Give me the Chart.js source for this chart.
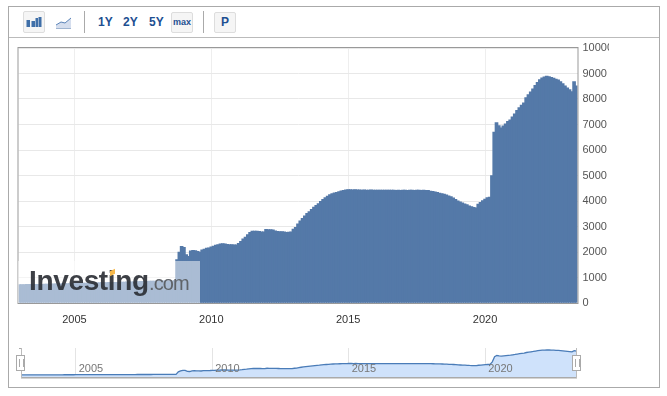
<!DOCTYPE html>
<html>
<head>
<meta charset="utf-8">
<script src="https://cdn.jsdelivr.net/npm/chart.js@4/dist/chart.umd.min.js"></script>
<style>
html,body{margin:0;padding:0;background:#fff;width:667px;height:396px;overflow:hidden;font-family:"Liberation Sans",Arial,sans-serif}
.abs{position:absolute;box-sizing:border-box}
.frame{left:8px;top:6px;width:652px;height:382px;border:1px solid #aaa}
.rule{left:9px;top:37px;width:650px;height:1px;background:#bbb}
.sep{top:11px;width:1px;height:22px;background:#aaa}
.btn{top:12px;height:21px;background:#f5f5f5;border:1px solid #ddd;border-radius:2px;color:#1d4f91;font-weight:bold;text-align:center}
.range{top:15px;color:#1d4f91;font-weight:bold;font-size:12px;line-height:14px}
.wm{left:18px;top:261px;width:182px;height:42px;background:rgba(255,255,255,.5)}
.logo{left:29px;top:262px;font-size:28px;font-weight:bold;color:rgba(45,48,54,.92);letter-spacing:-.35px;line-height:38px;white-space:nowrap}
.com{left:149px;top:268px;font-size:20px;color:#5f6368;letter-spacing:-.9px;line-height:30px;white-space:nowrap}
.mark{left:110px;top:270px;width:5px;height:5px;background:#f6b84a;transform:skewY(-25deg)}
.handle{top:355px;width:9px;height:16px;background:#fff;border:1px solid #aaa}
.handle:before{content:"";position:absolute;left:2px;top:3px;width:3px;height:8px;border-left:1px solid #aaa;border-right:1px solid #aaa}
.vline{top:348px;width:1px;height:30px;background:#bbb}
.mainc{position:absolute;left:0;top:0}
.navc{position:absolute;left:0;top:340px}
</style>
</head>
<body>
<div class="abs frame"></div>
<div class="abs rule"></div>
<div class="abs btn" style="left:23px;top:11px;width:22px;height:22px">
<svg width="20" height="20" style="position:absolute;left:0;top:0"><g fill="#3f6fa8"><rect x="2.500" y="8" width="3.500" height="7"/><rect x="7.500" y="9" width="3.500" height="6"/><rect x="11.500" y="6" width="2.500" height="9"/><rect x="14.500" y="5" width="3" height="10"/></g></svg>
</div>
<svg class="abs" style="left:55px;top:16px" width="18" height="14"><path d="M1 9 L6 6 L10 7 L16 2 L16 12 L1 12 Z" fill="#d5deee"/><path d="M1 9 L6 6 L10 7 L16 2" fill="none" stroke="#5b84b8" stroke-width="1"/><path d="M1 12.500 L16 12.500" stroke="#9fb4d0" stroke-width="1"/></svg>
<div class="abs sep" style="left:84px"></div>
<div class="abs range" style="left:98px">1Y</div>
<div class="abs range" style="left:123px">2Y</div>
<div class="abs range" style="left:149px">5Y</div>
<div class="abs btn" style="left:171px;width:22px;font-size:9px;line-height:19px">max</div>
<div class="abs sep" style="left:203px"></div>
<div class="abs btn" style="left:214px;width:22px;font-size:12px;line-height:19px">P</div>

<canvas id="main" class="mainc" width="609" height="340"></canvas>
<canvas id="nav" class="navc" width="600" height="45"></canvas>

<div class="abs wm"></div>
<div class="abs logo">Investing</div>
<div class="abs com">.com</div>
<div class="abs mark"></div>
<div class="abs" style="left:19px;top:348px;width:3px;height:1px;background:#aaa"></div>
<div class="abs vline" style="left:21px"></div>
<div class="abs vline" style="left:576px"></div>
<div class="abs handle" style="left:16px"></div>
<div class="abs handle" style="left:572px"></div>

<script>
const startYear = 2003;
const tickYears = [2005, 2010, 2015, 2020];
const yTicks = [0,1000,2000,3000,4000,5000,6000,7000,8000,9000,10000];

const v2003 = [720,720,720,730,730,730,730,730,730,730,735,740];
const v2004 = [745,745,745,750,750,755,755,760,760,760,765,770];
const v2005 = [775,780,780,780,785,785,785,790,790,790,795,800];
const v2006 = [800,805,805,810,810,815,815,815,820,820,825,830];
const v2007 = [830,835,835,840,840,845,850,850,850,855,860,860];
const v2008 = [860,865,865,870,870,870,870,870,880,1700,2000,2220];
const v2009 = [2180,1900,1830,2050,2070,2060,2030,2000,2090,2110,2150,2160];
const v2010 = [2200,2230,2270,2290,2320,2330,2320,2300,2290,2290,2280,2280];
const v2011 = [2340,2420,2520,2590,2680,2770,2820,2820,2820,2810,2790,2790];
const v2012 = [2890,2880,2880,2870,2830,2810,2800,2800,2790,2770,2780,2790];
const v2013 = [2900,2970,3100,3220,3320,3420,3520,3590,3670,3760,3830,3900];
const v2014 = [3990,4070,4130,4190,4250,4290,4320,4340,4370,4400,4420,4440];
const v2015 = [4450,4450,4440,4450,4440,4440,4430,4440,4430,4430,4440,4430];
const v2016 = [4430,4430,4425,4430,4425,4425,4430,4425,4425,4420,4425,4420];
const v2017 = [4425,4425,4420,4425,4425,4420,4425,4425,4420,4425,4420,4415];
const v2018 = [4390,4380,4360,4340,4310,4290,4270,4240,4200,4170,4120,4070];
const v2019 = [4010,3970,3930,3890,3860,3810,3780,3750,3730,3880,3950,4020];
const v2020 = [4080,4130,4150,5000,6700,7080,6960,6870,6950,7030,7120,7180];
const v2021 = [7300,7420,7560,7660,7760,7850,8060,8170,8280,8400,8540,8650];
const v2022 = [8760,8830,8870,8900,8880,8850,8820,8780,8750,8680,8600,8520];
const v2023 = [8440,8370,8290,8680,8520];

const values = [].concat(v2003,v2004,v2005,v2006,v2007,v2008,v2009,v2010,v2011,v2012,
  v2013,v2014,v2015,v2016,v2017,v2018,v2019,v2020,v2021,v2022,v2023);
const categories = values.map((_, i) => (startYear + Math.floor(i / 12)) + '-' + String(i % 12 + 1).padStart(2, '0'));

function keepYearTicks(scale) {
  scale.ticks = scale.ticks.filter(t => {
    const l = categories[t.value];
    return l.endsWith('-01') && tickYears.includes(+l.slice(0, 4));
  });
}
const yearLabel = function (v) { return categories[v].slice(0, 4); };

const FONT = '"Liberation Sans", Arial, sans-serif';
const frame = {
  id: 'frame',
  afterDraw(c) {
    const a = c.chartArea, g = c.ctx;
    g.save();
    g.strokeStyle = '#999';
    g.lineWidth = 1;
    g.strokeRect(a.left - .5, a.top - .5, a.right - a.left + 1, a.bottom - a.top + 1);
    g.restore();
  }
};

new Chart(document.getElementById('main'), {
  type: 'bar',
  data: { labels: categories, datasets: [{ data: values, backgroundColor: '#5479a8', barThickness: 3, borderWidth: 0 }] },
  options: {
    responsive: false, animation: false, events: [],
    layout: { padding: { left: 18.5, top: 48, right: 0, bottom: 0 } },
    plugins: { legend: { display: false }, tooltip: { enabled: false } },
    scales: {
      x: {
        type: 'category', offset: true,
        grid: { offset: false, color: '#eeeeee', drawTicks: false },
        border: { display: false },
        afterBuildTicks: keepYearTicks,
        afterFit(s) { s.height = 37; },
        ticks: { autoSkip: false, maxRotation: 0, minRotation: 0, padding: 10, color: '#333', font: { family: FONT, size: 11 }, callback: yearLabel }
      },
      y: {
        position: 'right', min: 0, max: 10000,
        afterBuildTicks(s) { s.ticks = yTicks.map(v => ({ value: v })); },
        afterFit(s) { s.width = 31.5; },
        grid: { color: '#e8e8e8', drawTicks: false },
        border: { display: false },
        ticks: { padding: 5, color: '#555', font: { family: FONT, size: 11 }, callback: v => String(v) }
      }
    }
  },
  plugins: [frame]
});

new Chart(document.getElementById('nav'), {
  type: 'line',
  data: { labels: categories, datasets: [{ data: values, borderColor: '#4a7cb8', borderWidth: 1.3, pointRadius: 0, tension: 0, fill: true, backgroundColor: '#cfe2fb' }] },
  options: {
    responsive: false, animation: false, events: [],
    layout: { padding: { left: 21.3, top: 8, right: 23.5, bottom: 0 } },
    plugins: { legend: { display: false }, tooltip: { enabled: false } },
    scales: {
      x: {
        type: 'category', offset: false,
        grid: { color: '#e4e4e4', drawTicks: false },
        border: { display: true, color: '#aaa', width: 1.5 },
        afterBuildTicks: keepYearTicks,
        afterFit(s) { s.height = 7; },
        ticks: { z: 2, mirror: true, autoSkip: false, maxRotation: 0, minRotation: 0, padding: 2, labelOffset: 15, color: '#777', font: { family: FONT, size: 11 }, callback: yearLabel }
      },
      y: { display: false, min: -300, max: 9536 }
    }
  }
});
</script>
</body>
</html>
